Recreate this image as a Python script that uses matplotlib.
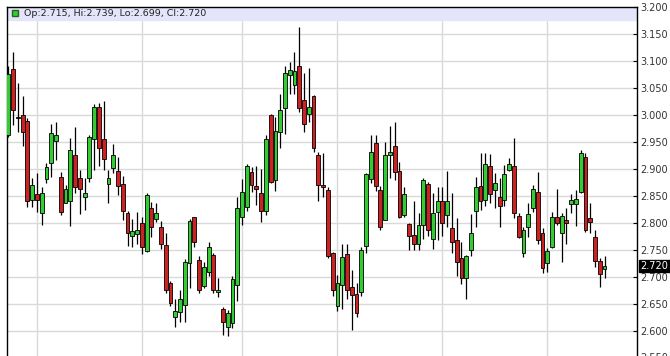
import numpy as np
import matplotlib
matplotlib.use('Agg')
import matplotlib.pyplot as plt
from matplotlib.transforms import blended_transform_factory

# daily candles (oldest -> newest)
opens = [2.964, 3.085, 2.997, 3.000, 2.989, 2.842, 2.853, 2.819, 2.881, 2.911,
         2.953, 2.885, 2.838, 2.841, 2.926, 2.883, 2.849, 2.883, 2.955, 3.016,
         2.956, 2.872, 2.902, 2.897, 2.872, 2.818, 2.776, 2.779, 2.800, 2.748,
         2.828, 2.807, 2.792, 2.759, 2.688, 2.625, 2.635, 2.648, 2.725, 2.811,
         2.732, 2.684, 2.710, 2.741, 2.672, 2.640, 2.608, 2.614, 2.685, 2.812,
         2.829, 2.895, 2.869, 2.855, 2.823, 3.000, 2.880, 2.968, 3.013, 3.075,
         3.056, 3.091, 3.028, 3.002, 3.036, 2.926, 2.871, 2.861, 2.744, 2.647,
         2.685, 2.742, 2.681, 2.668, 2.673, 2.758, 2.881, 2.948, 2.861, 2.806,
         2.927, 2.943, 2.897, 2.815, 2.798, 2.778, 2.762, 2.796, 2.872, 2.770,
         2.820, 2.841, 2.815, 2.790, 2.769, 2.735, 2.699, 2.750, 2.822, 2.869,
         2.843, 2.905, 2.861, 2.849, 2.843, 2.898, 2.906, 2.813, 2.745, 2.793,
         2.827, 2.858, 2.782, 2.725, 2.756, 2.812, 2.782, 2.806, 2.835, 2.835,
         2.858, 2.922, 2.809, 2.775, 2.730, 2.715]
highs = [3.091, 3.117, 3.060, 3.036, 2.994, 2.883, 2.892, 2.867, 2.912, 2.983,
         2.987, 2.895, 2.870, 2.957, 2.978, 2.898, 2.883, 2.963, 3.021, 3.023,
         3.026, 2.898, 2.947, 2.922, 2.887, 2.823, 2.807, 2.821, 2.812, 2.855,
         2.839, 2.838, 2.803, 2.781, 2.693, 2.659, 2.675, 2.733, 2.808, 2.812,
         2.738, 2.728, 2.764, 2.745, 2.698, 2.645, 2.639, 2.701, 2.848, 2.881,
         2.909, 2.903, 2.905, 2.900, 2.963, 3.002, 2.997, 3.039, 3.091, 3.099,
         3.117, 3.164, 3.078, 3.087, 3.037, 2.931, 2.930, 2.866, 2.747, 2.704,
         2.762, 2.761, 2.713, 2.688, 2.755, 2.893, 2.963, 2.963, 2.868, 2.950,
         2.979, 2.988, 2.914, 2.867, 2.800, 2.840, 2.818, 2.883, 2.877, 2.855,
         2.867, 2.866, 2.897, 2.855, 2.809, 2.765, 2.740, 2.817, 2.886, 2.930,
         2.929, 2.928, 2.893, 2.883, 2.908, 2.921, 2.957, 2.818, 2.793, 2.837,
         2.871, 2.895, 2.790, 2.753, 2.821, 2.864, 2.818, 2.827, 2.854, 2.861,
         2.935, 2.930, 2.837, 2.788, 2.735, 2.739]
lows = [2.960, 2.982, 2.969, 2.943, 2.830, 2.830, 2.821, 2.796, 2.874, 2.886,
        2.917, 2.814, 2.837, 2.795, 2.856, 2.816, 2.824, 2.877, 2.898, 2.905,
        2.898, 2.837, 2.892, 2.852, 2.806, 2.757, 2.755, 2.762, 2.743, 2.747,
        2.775, 2.801, 2.751, 2.670, 2.647, 2.608, 2.617, 2.617, 2.679, 2.755,
        2.670, 2.679, 2.701, 2.670, 2.662, 2.592, 2.591, 2.605, 2.656, 2.796,
        2.823, 2.858, 2.833, 2.801, 2.815, 2.874, 2.860, 2.939, 2.965, 3.039,
        3.039, 3.006, 2.968, 2.988, 2.932, 2.840, 2.849, 2.735, 2.665, 2.636,
        2.640, 2.659, 2.602, 2.625, 2.664, 2.744, 2.874, 2.860, 2.787, 2.805,
        2.883, 2.880, 2.809, 2.812, 2.750, 2.750, 2.750, 2.770, 2.776, 2.751,
        2.769, 2.776, 2.793, 2.744, 2.702, 2.687, 2.659, 2.738, 2.793, 2.824,
        2.832, 2.837, 2.827, 2.793, 2.832, 2.896, 2.809, 2.772, 2.737, 2.775,
        2.821, 2.762, 2.707, 2.710, 2.753, 2.797, 2.727, 2.762, 2.818, 2.795,
        2.855, 2.784, 2.781, 2.719, 2.682, 2.699]
closes = [3.076, 3.009, 2.995, 2.969, 2.840, 2.870, 2.842, 2.856, 2.904, 2.966,
          2.963, 2.821, 2.864, 2.935, 2.866, 2.864, 2.855, 2.959, 3.016, 2.939,
          2.918, 2.883, 2.927, 2.869, 2.823, 2.781, 2.786, 2.787, 2.755, 2.852,
          2.792, 2.818, 2.761, 2.675, 2.651, 2.636, 2.659, 2.728, 2.804, 2.765,
          2.675, 2.718, 2.755, 2.675, 2.676, 2.617, 2.634, 2.696, 2.828, 2.857,
          2.906, 2.871, 2.864, 2.823, 2.955, 2.877, 2.971, 3.010, 3.079, 3.084,
          3.081, 3.013, 2.983, 3.016, 2.939, 2.871, 2.867, 2.738, 2.675, 2.689,
          2.737, 2.676, 2.667, 2.633, 2.750, 2.891, 2.932, 2.869, 2.792, 2.926,
          2.931, 2.895, 2.812, 2.854, 2.776, 2.762, 2.796, 2.880, 2.787, 2.819,
          2.841, 2.800, 2.840, 2.765, 2.727, 2.698, 2.738, 2.781, 2.867, 2.841,
          2.909, 2.854, 2.874, 2.832, 2.890, 2.909, 2.818, 2.775, 2.788, 2.816,
          2.864, 2.769, 2.716, 2.749, 2.812, 2.800, 2.813, 2.800, 2.843, 2.845,
          2.930, 2.788, 2.801, 2.730, 2.706, 2.720]

# candle index where each month starts (vertical grid)
month_starts = [6, 28, 49, 69, 91, 113]
price_ticks = [2.60, 2.65, 2.70, 2.75, 2.80, 2.85, 2.90, 2.95, 3.00, 3.05, 3.10, 3.15, 3.20]

o = np.array(opens)
h = np.array(highs)
l = np.array(lows)
c = np.array(closes)
x = np.arange(len(o))

fig = plt.figure(figsize=(6.7, 3.56), dpi=100)
ax = fig.add_axes([7 / 670, 0, 630 / 670, 349 / 356])

up = c >= o
body_lo = np.minimum(o, c)
body_h = np.maximum(np.abs(c - o), 0.0015)
cols = np.where(up, '#33cc33', '#cc2222')

ax.vlines(x, l, h, color='black', lw=0.9, zorder=2)
ax.bar(x, body_h, bottom=body_lo, width=0.8, color=cols,
       edgecolor='black', linewidth=0.6, zorder=3)

# grid
for p in price_ticks:
    ax.axhline(p, color='#d9d9d9', lw=1, zorder=0)
for m in month_starts:
    ax.axvline(m, color='#d9d9d9', lw=1, zorder=0)

ax.set_xlim(-0.27, 131.8)
ax.set_ylim(2.5535, 3.2005)

# header strip with last OHLC
ax.axhspan(3.1764, 3.21, color='#e4e4fa', zorder=1)
ax.plot([0.0127], [3.1885], marker='s', ms=4.8, mfc='#33cc33', mec='#226622',
        transform=blended_transform_factory(ax.transAxes, ax.transData), zorder=4)
ax.text(0.027, 3.1885, 'Op:2.715, Hi:2.739, Lo:2.699, Cl:2.720', fontsize=6.8,
        va='center', ha='left', color='#222222',
        transform=blended_transform_factory(ax.transAxes, ax.transData), zorder=4)

# right price axis
ax.yaxis.tick_right()
ax.set_yticks(price_ticks)
ax.set_yticklabels(['%.3f' % p for p in price_ticks])
ax.tick_params(axis='y', direction='in', length=3, width=0.8, pad=2.2,
               labelsize=7, labelcolor='#333333')
ax.set_xticks([])
for s in ['left', 'right', 'top']:
    ax.spines[s].set_color('black')
    ax.spines[s].set_linewidth(1)
ax.spines['bottom'].set_visible(False)

tr = ax.get_yaxis_transform()
# label cut by the bottom edge
ax.text(1.0055, 2.55, '2.550', fontsize=7, color='#333333', va='center',
        ha='left', transform=tr, clip_on=False)
# last price marker
ax.text(1.0055, 2.720, '2.720', fontsize=7, color='white', va='center',
        ha='left', transform=tr, clip_on=False, zorder=5,
        bbox=dict(boxstyle='square,pad=0.12', fc='black', ec='black'))

fig.savefig('out.png', dpi=100)
